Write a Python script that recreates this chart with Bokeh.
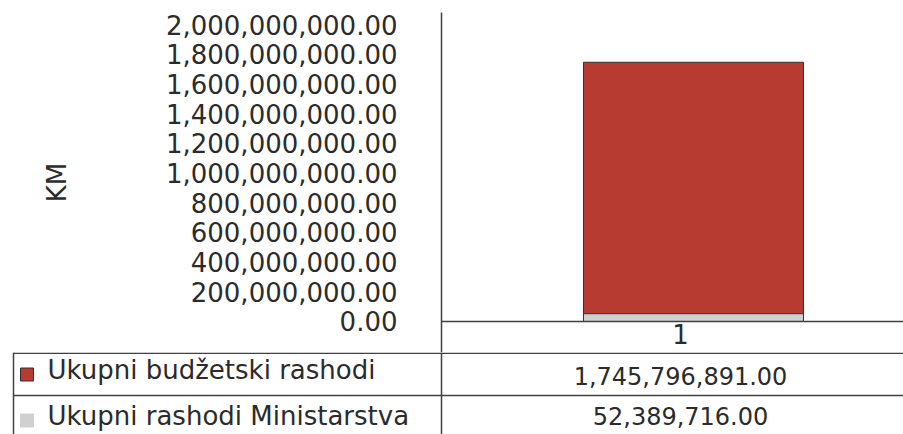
from bokeh.plotting import figure
from bokeh.models import Range1d, FixedTicker, NumeralTickFormatter, ColumnDataSource, Span
from bokeh.core.properties import value
from bokeh.embed import file_html
from bokeh.resources import INLINE

# ---- data ----
categories = ["1"]
series_names = ["Ukupni budžetski rashodi", "Ukupni rashodi Ministarstva"]
budget_values = [1745796891.00]
ministry_values = [52389716.00]
y_ticks = [0, 200e6, 400e6, 600e6, 800e6, 1000e6, 1200e6, 1400e6, 1600e6, 1800e6, 2000e6]
y_axis_title = "KM"

# ---- style ----
FONT = "DejaVu Sans"
FS = "26px"
FS_VAL = "24px"
TEXT = "#2b2b2b"
LINE = "#404040"
RED = "#B83B32"
GRAY = "#D0D0D0"
series_colors = [RED, GRAY]
swatch_lines = ["#333333", GRAY]

x_pos = [i + 1 for i in range(len(categories))]

# main chart: frame spans page y 12..352, value 0 sits at y=321
p = figure(width=903, height=352,
           x_range=Range1d(0.5, 1.4167), y_range=Range1d(-0.2088e9, 2.081e9),
           output_backend="svg", toolbar_location=None, x_axis_location=None,
           min_border_left=441, min_border_top=12, min_border_bottom=0, min_border_right=0)
p.outline_line_color = None
p.grid.grid_line_color = None

src_budget = ColumnDataSource(dict(x=x_pos, top=budget_values, bottom=[0] * len(x_pos)))
src_min = ColumnDataSource(dict(x=x_pos, top=ministry_values, bottom=[0] * len(x_pos)))
p.vbar(x="x", top="top", bottom="bottom", width=0.4365, source=src_budget,
       fill_color=RED, line_color="#333333", line_width=1)
p.vbar(x="x", top="top", bottom="bottom", width=0.4365, source=src_min,
       fill_color=GRAY, line_color="#333333", line_width=1)

# category axis line at value 0 and category label
p.add_layout(Span(location=0, dimension="width", line_color=LINE, line_width=1.5))
p.text(x=x_pos, y=[0] * len(x_pos), text=categories, x_offset=-13, y_offset=13,
       text_align="center", text_baseline="middle",
       text_font=value(FONT), text_font_size=FS, text_color=TEXT)

yax = p.yaxis[0]
yax.ticker = FixedTicker(ticks=y_ticks)
yax.formatter = NumeralTickFormatter(format="0,0.00")
yax.major_tick_line_color = None
yax.minor_tick_line_color = None
yax.axis_line_color = LINE
yax.axis_line_width = 1.5
yax.major_label_text_font = FONT
yax.major_label_text_font_size = FS
yax.major_label_text_color = TEXT
yax.major_label_standoff = 38
yax.axis_label = y_axis_title
yax.axis_label_text_font = FONT
yax.axis_label_text_font_size = FS
yax.axis_label_text_font_style = "normal"
yax.axis_label_text_color = TEXT
yax.axis_label_text_align = "left"
yax.axis_label_standoff = 91

# ---- data table below (separate root, page pixel coordinates) ----
t = figure(width=903, height=82, x_range=Range1d(0, 903), y_range=Range1d(434, 352),
           output_backend="svg", toolbar_location=None,
           x_axis_location=None, y_axis_location=None,
           min_border_left=0, min_border_right=0, min_border_top=0, min_border_bottom=0)
t.outline_line_color = None
t.grid.grid_line_color = None

t.segment(x0=[13, 13, 441, 13], y0=[352.75, 395, 352, 352],
          x1=[903, 903, 441, 13], y1=[352.75, 395, 434, 434],
          line_color=LINE, line_width=1.5)

t.rect(x=[26.5, 26.5], y=[374, 420], width=13, height=13,
       fill_color=series_colors, line_color=swatch_lines, line_width=1)
t.text(x=[47, 47], y=[369.5, 415.5], text=series_names,
       text_align="left", text_baseline="middle",
       text_font=value(FONT), text_font_size=FS, text_color=TEXT)
value_texts = [f"{budget_values[0]:,.2f}", f"{ministry_values[0]:,.2f}"]
t.text(x=[680, 680], y=[375, 415], text=value_texts,
       text_align="center", text_baseline="middle",
       text_font=value(FONT), text_font_size=FS_VAL, text_color=TEXT)

open("out.html", "w").write(file_html([p, t], INLINE))
